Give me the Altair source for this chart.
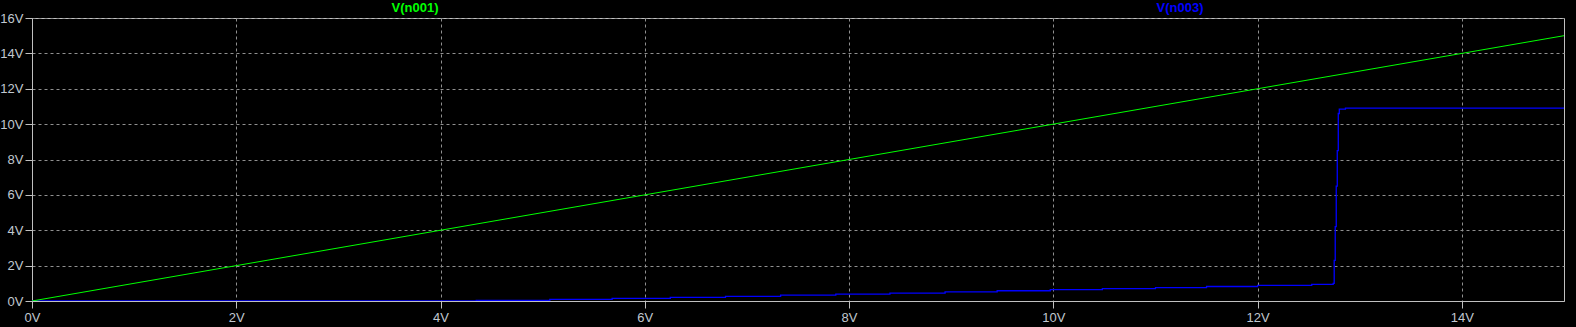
import altair as alt
import pandas as pd

# Sweep values (V)
green_x = [0, 15]
green_y = [0, 15]

blue_x = [0, 4.35, 5.07, 5.68, 6.25, 6.79, 7.33, 7.87, 8.40, 8.94, 9.45, 9.97,
          10.48, 11.0, 11.5, 12.0, 12.53, 12.74, 12.75, 12.76, 12.77, 12.78,
          12.79, 12.80, 12.86, 15]
blue_y = [0, 0.03, 0.09, 0.15, 0.20, 0.26, 0.33, 0.39, 0.45, 0.52, 0.58, 0.64,
          0.70, 0.76, 0.82, 0.88, 0.94, 1.00, 2.3, 4.2, 6.5, 8.5,
          10.6, 10.85, 10.9, 10.9]

x_ticks = [0, 2, 4, 6, 8, 10, 12, 14]
y_ticks = [0, 2, 4, 6, 8, 10, 12, 14, 16]

trace_names = ["V(n001)", "V(n003)"]
trace_colors = ["#00ff00", "#0000ff"]

green_df = pd.DataFrame({"x": green_x, "y": green_y})
blue_df = pd.DataFrame({"x": blue_x, "y": blue_y})

W, H = 1532, 283
FONT = "Liberation Sans"
LABEL_COLOR = "#c0c8d0"

xscale = alt.Scale(domain=[0, 15], nice=False, zero=False)
yscale = alt.Scale(domain=[0, 16], nice=False, zero=False)

xaxis = alt.Axis(values=x_ticks, labelExpr="datum.value + 'V'", title=None,
                 grid=True, gridColor="#909090", gridDash=[3, 3], gridWidth=1,
                 domainColor="#c0c0c0", tickColor="#c0c0c0", tickSize=7,
                 labelColor=LABEL_COLOR, labelFont=FONT, labelFontSize=13,
                 labelPadding=3, labelFlush=False, labelOverlap=False)
yaxis = alt.Axis(values=y_ticks, labelExpr="datum.value + 'V'", title=None,
                 grid=True, gridColor="#909090", gridDash=[3, 3], gridWidth=1,
                 domainColor="#c0c0c0", tickColor="#c0c0c0", tickSize=7,
                 labelColor=LABEL_COLOR, labelFont=FONT, labelFontSize=13,
                 labelPadding=2, labelFlush=False, labelOverlap=False)

green = alt.Chart(green_df).mark_line(color=trace_colors[0], strokeWidth=1, clip=True).encode(
    x=alt.X("x:Q", scale=xscale, axis=xaxis),
    y=alt.Y("y:Q", scale=yscale, axis=yaxis),
)
blue = alt.Chart(blue_df).mark_line(color=trace_colors[1], strokeWidth=1.3,
                                    interpolate="step-after", clip=True).encode(
    x=alt.X("x:Q", scale=xscale, axis=xaxis),
    y=alt.Y("y:Q", scale=yscale, axis=yaxis),
)

t1 = alt.Chart(pd.DataFrame({"t": [trace_names[0]]})).mark_text(
    color=trace_colors[0], font=FONT, fontSize=13, fontWeight="bold",
    baseline="alphabetic", align="center").encode(
    text="t:N", x=alt.value(383), y=alt.value(-6))
t2 = alt.Chart(pd.DataFrame({"t": [trace_names[1]]})).mark_text(
    color=trace_colors[1], font=FONT, fontSize=13, fontWeight="bold",
    baseline="alphabetic", align="center").encode(
    text="t:N", x=alt.value(1148), y=alt.value(-6))

chart = alt.layer(blue, green, t1, t2).properties(
    width=W, height=H,
    background="#000000",
    padding={"left": 32, "top": 18, "right": 12, "bottom": 26},
    autosize=alt.AutoSizeParams(type="none"),
).configure_view(stroke="#c0c0c0", strokeWidth=1)

chart.save("out.html", embed_options={"renderer": "svg", "actions": False})
